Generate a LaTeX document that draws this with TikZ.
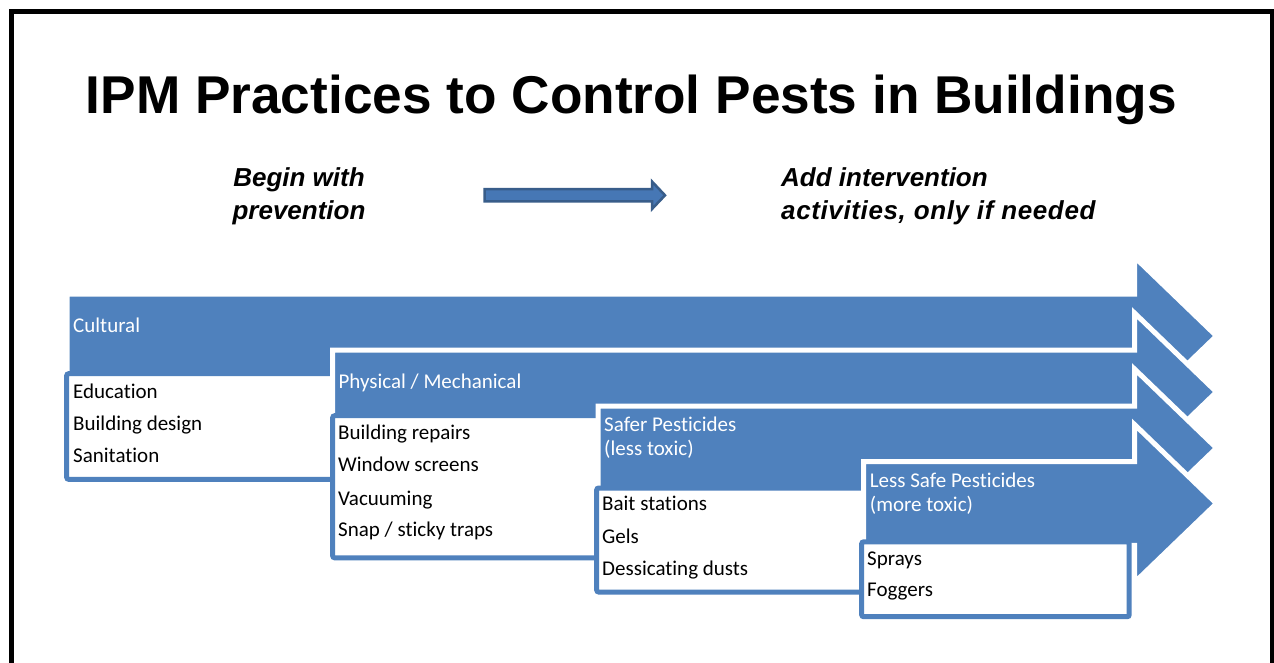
\documentclass[tikz,border=0pt]{standalone}
\usepackage{fontspec}
\setmainfont[RawFeature={-liga}]{Carlito}
\newfontfamily\arialfont{Liberation Sans}
\definecolor{arrowblue}{HTML}{4F81BD}
\definecolor{smallfill}{HTML}{4677B5}
\definecolor{smalledge}{HTML}{385D8A}
\newcommand{\IncArrow}[2]{%
  \draw[bigarrow] (#1,#2-41.8) -- (1134.5,#2-41.8) -- (1134.5,#2-79) -- (1216.5,#2)
    -- (1134.5,#2+79) -- (1134.5,#2+41.8) -- (#1,#2+41.8) -- cycle;}
\begin{document}
\begin{tikzpicture}[x=1pt,y=-1pt,
  bigarrow/.style={fill=arrowblue, draw=white, line width=5pt, line join=miter},
  listbox/.style={fill=white, draw=arrowblue, line width=5pt, rounded corners=2pt},
  steplabel/.style={anchor=base west, inner sep=0pt, text=white, font=\fontsize{21}{24}\selectfont},
  itemtext/.style={anchor=base west, inner sep=0pt, text=black, font=\fontsize{21}{24}\selectfont},
  titletext/.style={anchor=base, inner sep=0pt, font=\arialfont\bfseries\fontsize{53.2}{60}\selectfont},
  subtitle/.style={inner sep=0pt, font=\arialfont\bfseries\itshape\fontsize{26}{30}\selectfont},
  smallarrow/.style={fill=smallfill, draw=smalledge, line width=2.5pt, line join=miter}
]
\useasboundingbox (0,0) rectangle (1274,662);
\clip (0,0) rectangle (1274,662);
\fill[white] (0,0) rectangle (1274,662);
% frame
\draw[line width=4.5pt] (11.5,700) -- (11.5,11.5) -- (1272,11.5) -- (1272,700);
% title
\node[titletext] (title) at (631.3,113.3) {IPM Practices to Control Pests in Buildings};
% subtitles
\node[subtitle, anchor=base] (begin1) at (299,186.7) {Begin with};
\node[subtitle, anchor=base] (begin2) at (299,219) {prevention};
\node[subtitle, anchor=base west] (add1) at (781,186.7) {Add intervention};
\node[subtitle, anchor=base west] (add2) at (781,219) {\addfontfeature{LetterSpace=2.4}activities, only if needed};
% small arrow
\draw[smallarrow] (484.5,189.2) -- (652,189.2) -- (652,181.5) -- (665,195.3) -- (652,209) -- (652,201.4) -- (484.5,201.4) -- cycle;
% step 1
\IncArrow{67}{336}
\draw[listbox] (66.7,373.7) rectangle (334.1,479.3);
\node[steplabel] (cult) at (73,332.7) {Cultural};
\node[itemtext] (edu) at (73,398.3) {Education};
\node[itemtext] (bdes) at (73,430.7) {Building design};
\node[itemtext] (sani) at (73,462.7) {Sanitation};
% step 2
\IncArrow{332.5}{392}
\draw[listbox] (332.7,415.7) rectangle (600.1,557.8);
\node[steplabel] (phys) at (338.3,388.3) {Physical / Mechanical};
\node[itemtext] (brep) at (338,439) {Building repairs};
\node[itemtext] (wind) at (338,471.7) {Window screens};
\node[itemtext] (vacu) at (338,505) {Vacuuming};
\node[itemtext] (snap) at (338,536.7) {Snap / sticky traps};
% step 3
\IncArrow{598}{448}
\draw[listbox] (596.7,488) rectangle (864.1,592);
\node[steplabel] (safe1) at (604,431.7) {Safer Pesticides};
\node[steplabel] (safe2) at (604,455.3) {(less toxic)};
\node[itemtext] (bait) at (602,510.7) {Bait stations};
\node[itemtext] (gels) at (602,543) {Gels};
\node[itemtext] (dess) at (602,575) {Dessicating dusts};
% step 4
\IncArrow{863.5}{503.5}
\draw[listbox] (861.7,541.8) rectangle (1129.2,616.7);
\node[steplabel] (less1) at (869.7,487.3) {Less Safe Pesticides};
\node[steplabel] (less2) at (869.7,511) {(more toxic)};
\node[itemtext] (spray) at (867,565) {Sprays};
\node[itemtext] (fogg) at (867,596.7) {Foggers};
\end{tikzpicture}
\end{document}
